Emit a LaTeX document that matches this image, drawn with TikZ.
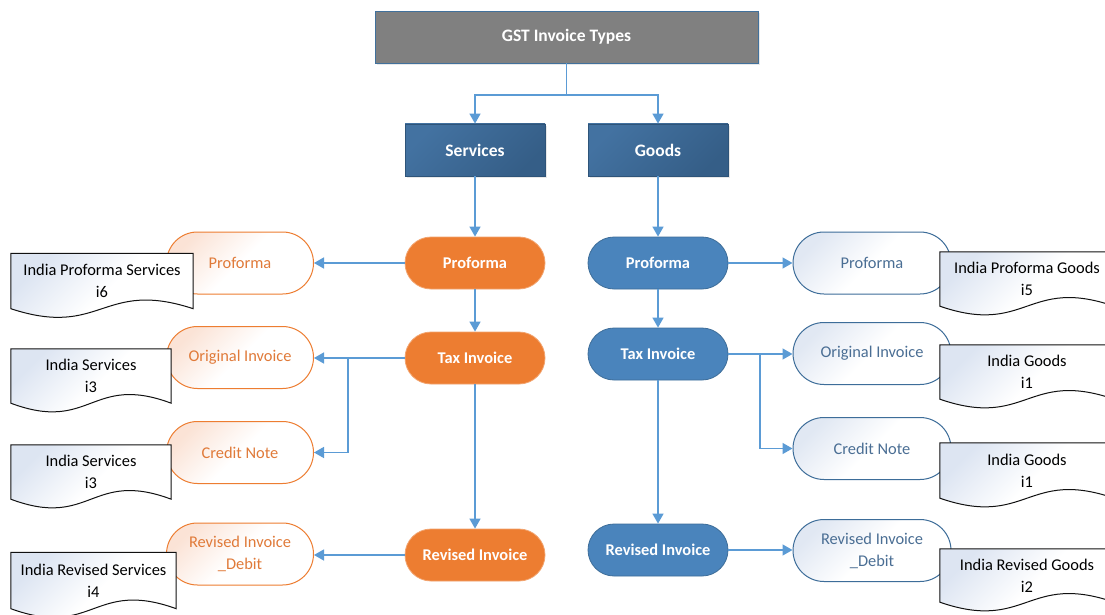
\documentclass[tikz,border=0pt]{standalone}
\usepackage{fontspec}
\setmainfont{Carlito}
\usetikzlibrary{shapes.misc,arrows.meta,shadows,calc}
\definecolor{connblue}{HTML}{5B9BD5}
\definecolor{gstgray}{HTML}{808080}
\definecolor{gstborder}{HTML}{41719C}
\definecolor{catlight}{HTML}{4372A1}
\definecolor{catdark}{HTML}{355E87}
\definecolor{catborder}{HTML}{2E5479}
\definecolor{orfill}{HTML}{ED7D31}
\definecolor{orborder}{HTML}{F2A36E}
\definecolor{blfill}{HTML}{4A84BC}
\definecolor{blborder}{HTML}{3D6D99}
\definecolor{ortext}{HTML}{E07A39}
\definecolor{ortint}{HTML}{FBE3D6}
\definecolor{bltext}{HTML}{4A6E94}
\definecolor{bltint}{HTML}{E1E8F3}
\definecolor{docline}{HTML}{111111}
\definecolor{doctint}{HTML}{DDE5F2}
\pgfdeclarelayer{docbg}
\pgfdeclarelayer{front}
\pgfsetlayers{main,docbg,front}
\newcommand\docpath[1]{\path[docshape] (#1.south west) -- (#1.north west) -- (#1.north east) -- (#1.south east) .. controls ($(#1.south)+(0,-30)$) and ($(#1.south)+(0,30)$) .. (#1.south west) -- cycle;}
\tikzset{
  regfont/.style={font=\fontsize{16.4}{22}\selectfont},
  conn/.style={draw=connblue, line width=1.4pt, -{Triangle[length=10pt,width=11pt]}},
  connline/.style={draw=connblue, line width=1.4pt},
  topbox/.style={rectangle, draw=gstborder, line width=0.8pt, fill=gstgray, text=white,
    font=\fontsize{17.5}{20}\selectfont\bfseries, minimum width=383pt, minimum height=52pt, inner sep=0,
    drop shadow={opacity=0.18, shadow xshift=2pt, shadow yshift=-2pt}},
  catbox/.style={rectangle, draw=catborder, line width=0.8pt, top color=catlight, bottom color=catdark, shading angle=45, text=white,
    font=\fontsize{17.5}{20}\selectfont\bfseries, minimum width=140pt, minimum height=52pt, inner sep=0,
    drop shadow={opacity=0.18, shadow xshift=2pt, shadow yshift=-2pt}},
  fillstad/.style={rounded rectangle, minimum width=140pt, minimum height=52pt, inner sep=0, text=white,
    font=\fontsize{16.4}{20}\selectfont\bfseries, line width=0.8pt},
  orstad/.style={fillstad, fill=orfill, draw=orborder},
  blstad/.style={fillstad, fill=blfill, draw=blborder},
  outstad/.style={rounded rectangle, line width=1pt, inner sep=0, regfont, align=center, minimum height=62pt},
  orout/.style={outstad, draw=orfill, text=ortext, top color=ortint, bottom color=white, middle color=white, shading angle=45, minimum width=147pt},
  blout/.style={outstad, draw=blborder, text=bltext, top color=bltint, bottom color=white, middle color=white, shading angle=45, minimum width=158pt},
  docnode/.style={rectangle, inner sep=0, align=center, regfont, text=black},
  docshape/.style={draw=docline, line width=1pt, top color=doctint, bottom color=white, middle color=white, shading angle=45}
}
\begin{document}
\begin{tikzpicture}[x=1pt,y=-1pt]
\useasboundingbox (0,0) rectangle (1105,615);
\clip (0,0) rectangle (1105,615);
\fill[white] (0,0) rectangle (1105,615);

% top levels
\node[topbox] (gst) at (566.5,37) {GST Invoice Types};
\node[catbox] (serv) at (475,150) {Services};
\node[catbox] (goods) at (658,150) {Goods};

% services column
\node[orstad] (sp) at (475,263) {Proforma};
\node[orstad] (st) at (475,358) {Tax Invoice};
\node[orstad] (sr) at (475,555) {Revised Invoice};

% goods column
\node[blstad] (gp) at (658,263) {Proforma};
\node[blstad] (gt) at (658,354) {Tax Invoice};
\node[blstad] (gr) at (658,550) {Revised Invoice};

% outlined left
\node[orout] (lo1) at (240,263) {Proforma};
\node[orout] (lo2) at (240,357.5) {Original Invoice};
\node[orout] (lo3) at (240,452.5) {Credit Note};
\node[orout] (lo4) at (240,554) {Revised Invoice\\\_Debit};

% outlined right
\node[blout] (ro1) at (872,263) {Proforma};
\node[blout] (ro2) at (872,353.5) {Original Invoice};
\node[blout] (ro3) at (872,448.5) {Credit Note};
\node[blout] (ro4) at (872,550.5) {Revised Invoice\\\_Debit};

% documents
\begin{pgfonlayer}{front}
\node[docnode, minimum width=182pt, minimum height=55pt] (ld1) at (102,281) {India Proforma Services\\i6};
\node[docnode, minimum width=160pt, minimum height=54pt] (ld2) at (91,376) {India Services\\i3};
\node[docnode, minimum width=160pt, minimum height=54pt] (ld3) at (91,472) {India Services\\i3};
\node[docnode, minimum width=165pt, minimum height=56pt] (ld4) at (93.5,580.5) {India Revised Services\\i4};
\node[docnode, minimum width=174pt, minimum height=54pt] (rd1) at (1027,279) {India Proforma Goods\\i5};
\node[docnode, minimum width=174pt, minimum height=54pt] (rd2) at (1027,372) {India Goods\\i1};
\node[docnode, minimum width=174pt, minimum height=55pt] (rd3) at (1027,470.5) {India Goods\\i1};
\node[docnode, minimum width=174pt, minimum height=53pt] (rd4) at (1027,575.5) {India Revised Goods\\i2};
\end{pgfonlayer}
\begin{pgfonlayer}{docbg}
\docpath{ld1}
\docpath{ld2}
\docpath{ld3}
\docpath{ld4}
\docpath{rd1}
\docpath{rd2}
\docpath{rd3}
\docpath{rd4}
\end{pgfonlayer}

% connectors
\coordinate (split) at (566.5,95);
\draw[connline] (gst.south) -- (split);
\draw[conn] (split) -| (serv.north);
\draw[conn] (split) -| (goods.north);
\draw[conn] (serv.south) -- (sp.north);
\draw[conn] (sp.south) -- (st.north);
\draw[conn] (st.south) -- (sr.north);
\draw[conn] (goods.south) -- (gp.north);
\draw[conn] (gp.south) -- (gt.north);
\draw[conn] (gt.south) -- (gr.north);

\draw[conn] (sp.west) -- (sp.west -| lo1.east);
\draw[conn] (st.west) -- (st.west -| lo2.east);
\coordinate (lb) at (348,358);
\draw[conn] (lb) |- (lo3.east);
\draw[conn] (sr.west) -- (sr.west -| lo4.east);

\draw[conn] (gp.east) -- (gp.east -| ro1.west);
\draw[conn] (gt.east) -- (gt.east -| ro2.west);
\coordinate (rb) at (760,354);
\draw[conn] (rb) |- (ro3.west);
\draw[conn] (gr.east) -- (gr.east -| ro4.west);
\end{tikzpicture}
\end{document}
